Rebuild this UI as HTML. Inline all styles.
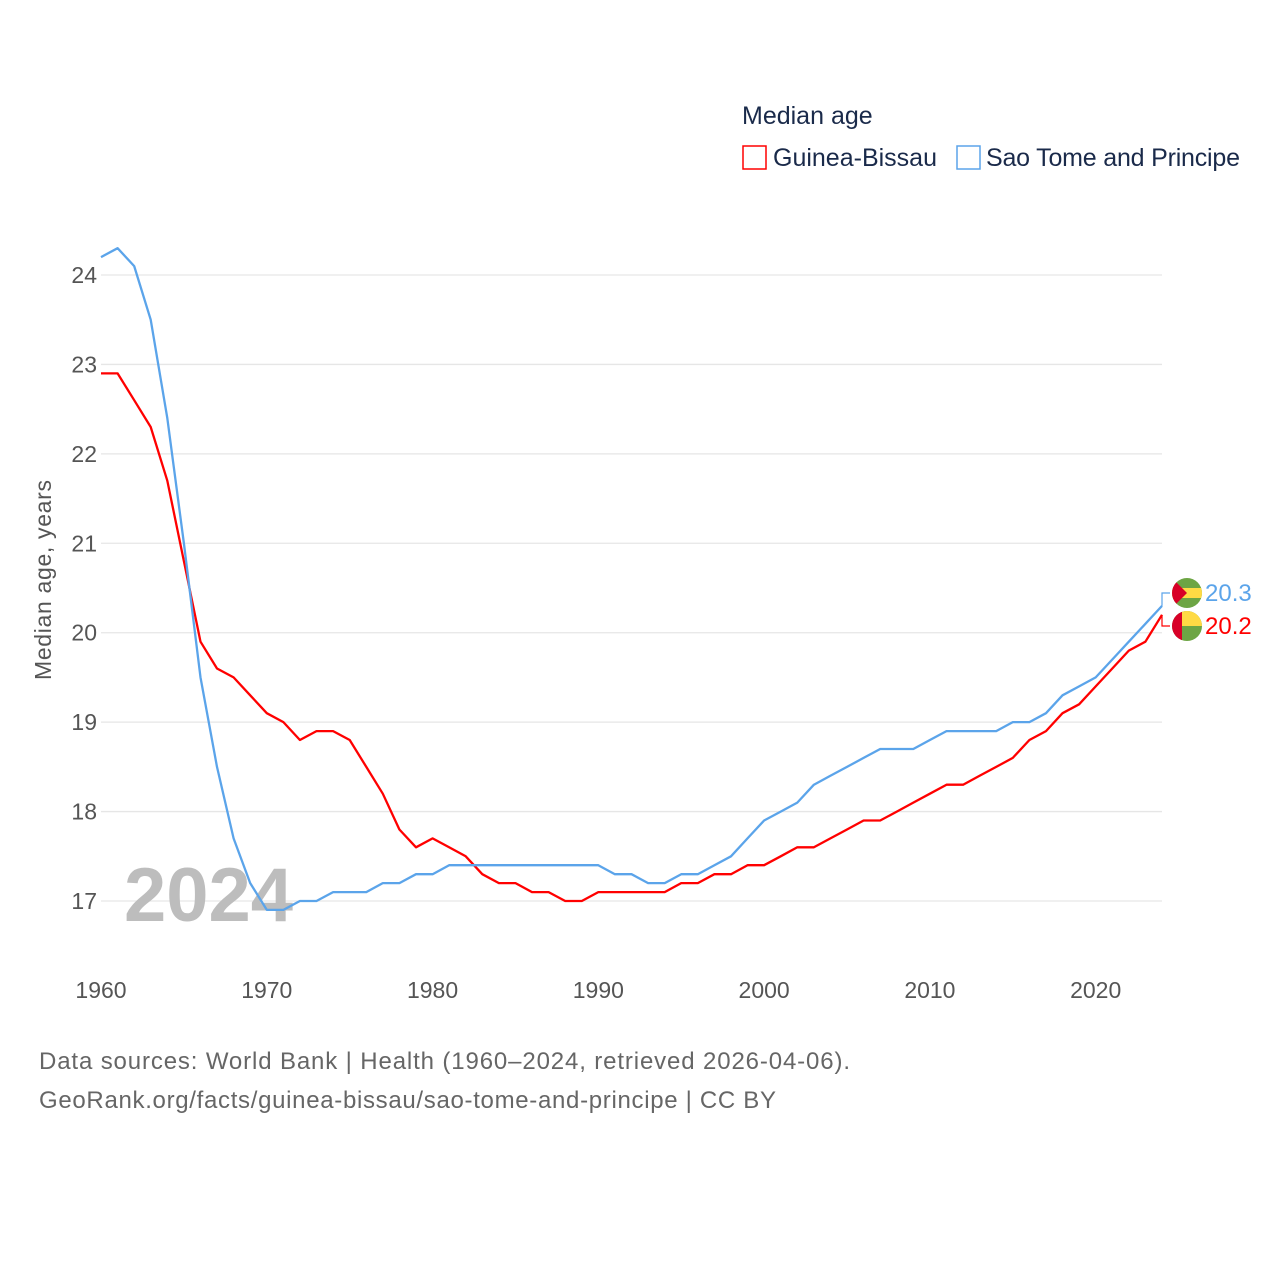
<!DOCTYPE html>
<html><head><meta charset="utf-8"><style>
body{margin:0;background:#fff;font-family:"Liberation Sans",sans-serif}
svg{display:block}
</style></head><body>
<svg id="chart" width="1280" height="1280" viewBox="0 0 1280 1280">
<g id="grid"></g>
<g id="yticks"></g>
<g id="xticks"></g>
<text x="124" y="921" font-size="76" font-weight="bold" fill="#bdbdbd">2024</text>
<g id="lines"></g>
<text transform="translate(51,580) rotate(-90)" text-anchor="middle" font-size="23" fill="#555" textLength="200">Median age, years</text>
<text x="742" y="124" font-size="25" fill="#1a2a4a">Median age</text>
<g><rect x="743" y="146" width="23" height="23" fill="#fff" stroke="#f00" stroke-width="1.5"/><text x="773" y="166" font-size="25" fill="#1a2a4a">Guinea-Bissau</text></g>
<g><rect x="957" y="146" width="23" height="23" fill="#fff" stroke="#5ba4ea" stroke-width="1.5"/><text x="986" y="166" font-size="25" fill="#1a2a4a" textLength="254">Sao Tome and Principe</text></g>
<g id="endlabels"></g>
<text x="39" y="1069" font-size="24" fill="#666" textLength="811">Data sources: World Bank | Health (1960–2024, retrieved 2026-04-06).</text>
<text x="39" y="1108" font-size="24" fill="#666" textLength="737">GeoRank.org/facts/guinea-bissau/sao-tome-and-principe | CC BY</text>
</svg>
<script>
const years=[];for(let y=1960;y<=2024;y++)years.push(y);
const guineaBissau=[22.9,22.9,22.6,22.3,21.7,20.8,19.9,19.6,19.5,19.3,19.1,19.0,18.8,18.9,18.9,18.8,18.5,18.2,17.8,17.6,17.7,17.6,17.5,17.3,17.2,17.2,17.1,17.1,17.0,17.0,17.1,17.1,17.1,17.1,17.1,17.2,17.2,17.3,17.3,17.4,17.4,17.5,17.6,17.6,17.7,17.8,17.9,17.9,18.0,18.1,18.2,18.3,18.3,18.4,18.5,18.6,18.8,18.9,19.1,19.2,19.4,19.6,19.8,19.9,20.2];
const saoTome=[24.2,24.3,24.1,23.5,22.4,21.0,19.5,18.5,17.7,17.2,16.9,16.9,17.0,17.0,17.1,17.1,17.1,17.2,17.2,17.3,17.3,17.4,17.4,17.4,17.4,17.4,17.4,17.4,17.4,17.4,17.4,17.3,17.3,17.2,17.2,17.3,17.3,17.4,17.5,17.7,17.9,18.0,18.1,18.3,18.4,18.5,18.6,18.7,18.7,18.7,18.8,18.9,18.9,18.9,18.9,19.0,19.0,19.1,19.3,19.4,19.5,19.7,19.9,20.1,20.3];
const yTicks=[17,18,19,20,21,22,23,24];
const xTicks=[1960,1970,1980,1990,2000,2010,2020];
const NS='http://www.w3.org/2000/svg';
const X=y=>101+(y-1960)*(1162-101)/64;
const Y=v=>901-(v-17)*(901-275)/7;
function mk(t,a,p){const e=document.createElementNS(NS,t);for(const k in a)e.setAttribute(k,a[k]);p.appendChild(e);return e;}
const grid=document.getElementById('grid'),yt=document.getElementById('yticks'),xt=document.getElementById('xticks');
yTicks.forEach(v=>{
 const l=mk('line',{x1:101,x2:1162,y1:Y(v),y2:Y(v),stroke:'#e6e6e6','stroke-width':1.3},grid);
 
 
 const t=mk('text',{x:97,y:Y(v)+8,'text-anchor':'end','font-size':23,fill:'#555'},yt);
 t.textContent=v;
 
 
});
xTicks.forEach(v=>{
 const t=mk('text',{x:X(v),y:998,'text-anchor':'middle','font-size':23,fill:'#555'},xt);
 t.textContent=v;
 
 
});
const lines=document.getElementById('lines');
function drawLine(vals,color,name){
 const p=mk('path',{d:vals.map((v,i)=>(i?'L':'M')+X(years[i]).toFixed(1)+','+Y(v).toFixed(1)).join(''),fill:'none',stroke:color,'stroke-width':2.3,'stroke-linejoin':'round'},lines);
 
 
}
drawLine(guineaBissau,'#ff0000','line-guinea-bissau');
drawLine(saoTome,'#5ba4ea','line-sao-tome');
const el=document.getElementById('endlabels');
const gbv=guineaBissau[guineaBissau.length-1],stv=saoTome[saoTome.length-1];
const gy=626,sy=593,ex=X(2024);
mk('path',{d:`M${ex},${Y(stv)}V${sy}H1170`,fill:'none',stroke:'#5ba4ea','stroke-width':1.2},el);
mk('path',{d:`M${ex},${Y(gbv)}V${gy}H1170`,fill:'none',stroke:'#f00','stroke-width':1.2},el);
const f1=mk('g',{},el);


mk('clipPath',{id:'c1'},f1).appendChild(document.createElementNS(NS,'circle'));
const c1=f1.querySelector('#c1 circle');c1.setAttribute('cx',1187);c1.setAttribute('cy',sy);c1.setAttribute('r',15);
const g1=mk('g',{'clip-path':'url(#c1)'},f1);
mk('rect',{x:1172,y:sy-15,width:30,height:30,fill:'#6da544'},g1);
mk('rect',{x:1172,y:sy-5,width:30,height:10,fill:'#ffda44'},g1);
mk('path',{d:`M1172,${sy-15}L1187,${sy}L1172,${sy+15}Z`,fill:'#d80027'},g1);
const f2=mk('g',{},el);


mk('clipPath',{id:'c2'},f2).appendChild(document.createElementNS(NS,'circle'));
const c2=f2.querySelector('#c2 circle');c2.setAttribute('cx',1187);c2.setAttribute('cy',gy);c2.setAttribute('r',15);
const g2=mk('g',{'clip-path':'url(#c2)'},f2);
mk('rect',{x:1172,y:gy-15,width:30,height:30,fill:'#6da544'},g2);
mk('rect',{x:1182,y:gy-15,width:20,height:15,fill:'#ffda44'},g2);
mk('rect',{x:1172,y:gy-15,width:10,height:30,fill:'#d80027'},g2);
const t1=mk('text',{x:1205,y:sy+8,'font-size':24,fill:'#5ba4ea'},el);t1.textContent=stv.toFixed(1);


const t2=mk('text',{x:1205,y:gy+8,'font-size':24,fill:'#f00'},el);t2.textContent=gbv.toFixed(1);


</script>
</body></html>
